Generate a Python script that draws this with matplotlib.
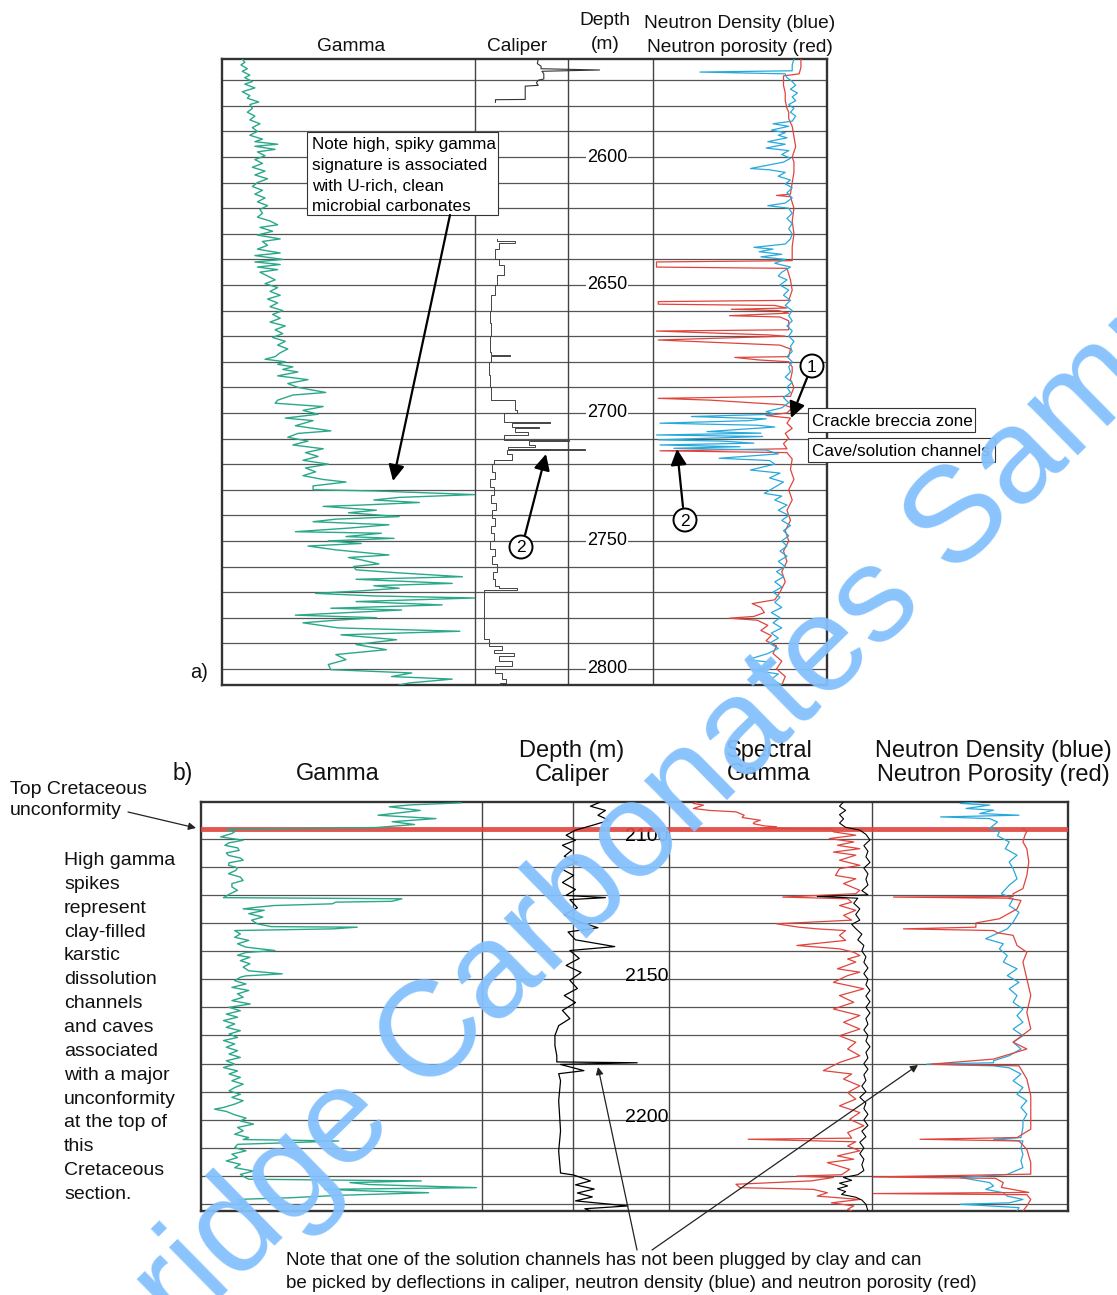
import numpy as np
import matplotlib
matplotlib.use("Agg")
import matplotlib.pyplot as plt
from matplotlib.patches import Rectangle, Circle

plt.rcParams['font.family'] = ['Liberation Sans', 'DejaVu Sans']

# ------------------------------------------------------------------ DATA
# Panel a) depth range (m) and grid
A_TOP, A_BOT = 2561.7, 2806.3
A_GRID = list(range(2570, 2801, 10))
A_LABELS = [2600, 2650, 2700, 2750, 2800]

# Gamma (panel a) - % of track width
GAMMA_A_DEPTH = [2561.7, 2563, 2564, 2565.5, 2566.5, 2568, 2569, 2570.5, 2571.5, 2573, 2574.5, 2576, 2577, 2578.5,
                 2579.5, 2581, 2582.5, 2584, 2585.5, 2587, 2588.5, 2590, 2591.5, 2593, 2594, 2595, 2595.8, 2597,
                 2598, 2599.5, 2601, 2602.5, 2604, 2605.5, 2607, 2608.5, 2610, 2611.5, 2613, 2614.5, 2616, 2617.5,
                 2619, 2620.5, 2622, 2623.5, 2625, 2626.5, 2627.5, 2629, 2630.5, 2632, 2633, 2634.5, 2636, 2637.5,
                 2638.5, 2640, 2641, 2642, 2643, 2644, 2645, 2646.5, 2648, 2649.5, 2651, 2652.5, 2654, 2655.5, 2657,
                 2658.5, 2660, 2661.5, 2663, 2664.5, 2666, 2667.5, 2669, 2670.5, 2672, 2673.5, 2675, 2676.5, 2678,
                 2679, 2680, 2681, 2682, 2683, 2684, 2685.5, 2687, 2688.5, 2690, 2692, 2693, 2695, 2696.2, 2697.5,
                 2699, 2700.5, 2702, 2703, 2705, 2707, 2708, 2709.5, 2711, 2712.5, 2714, 2715.5, 2717, 2718.5, 2720,
                 2721.5, 2723, 2724.5, 2726, 2727, 2728.5, 2730, 2730.5, 2731.9, 2733, 2734, 2735, 2736, 2736.5, 2738,
                 2739, 2740.5, 2741.5, 2742.5, 2743.7, 2745, 2746.4, 2747, 2748.3, 2749, 2750, 2751, 2752, 2753.5,
                 2755.5, 2756.5, 2757.4, 2759, 2760, 2761.3, 2762.5, 2764, 2765, 2766.6, 2767.5, 2768.5, 2769.5,
                 2770.5, 2771.5, 2772.3, 2773.7, 2775, 2776.3, 2777, 2778, 2779, 2780, 2781, 2782, 2784, 2785.3,
                 2786.7, 2788.6, 2790.5, 2792.5, 2794.4, 2796.4, 2798.3, 2800.3, 2801.6, 2803, 2804, 2805.5, 2806.3]
GAMMA_A_VAL = [8, 9, 7.5, 10, 8, 11, 9, 12, 9, 13, 8, 11, 10, 14.5,
               11, 12, 10, 13, 11, 15, 12, 14, 11, 16, 13, 22, 13, 21,
               14, 17, 13, 16, 12, 17, 13, 18, 14, 12, 16, 13, 17, 14,
               18, 15, 16, 14, 19, 22, 15, 20, 14, 23, 16, 18, 14, 23,
               13, 24, 13, 23, 14, 22, 15, 18, 21, 17, 22, 19, 23, 18, 22,
               19, 24, 20, 23, 19, 25, 21, 24, 20, 25, 22, 26, 23, 21,
               17, 25, 22, 28, 24, 30, 22, 34, 26, 30, 41, 28, 22, 21, 40,
               32, 38, 25, 36, 29, 43, 30, 26, 34, 28, 40, 33, 38, 32, 42,
               33, 37, 32, 40, 49, 36, 36, 61, 100, 70, 60, 78, 55, 40, 61,
               50, 70, 45, 36, 66, 50, 29, 63, 49, 68, 42, 55, 34, 45,
               66, 50, 55, 62, 52, 53, 70, 95, 53, 91, 60, 70, 55,
               37, 60, 100, 53, 87, 43, 71, 50, 29, 61, 45, 32, 46, 94,
               47, 69, 53, 65, 45, 49, 42, 43, 75, 67, 91, 74, 70]

# Caliper (panel a) - two logged runs, % of track width
CAL_A_TOP_DEPTH = [2561.7, 2563.5, 2564.5, 2565.5, 2566, 2566.5, 2567.5, 2569.5, 2570, 2571, 2572, 2572.3,
                   2577.5, 2577.6, 2578.6]
CAL_A_TOP_VAL = [68, 67, 71, 71, 134, 72, 74, 74, 68, 66, 68, 54, 54, 22, 22]
CAL_A_DEPTH = [2632, 2633, 2633.5, 2636, 2639.8, 2642, 2645, 2646, 2650, 2653, 2654, 2660, 2665, 2670, 2676,
               2677.3, 2677.8, 2680, 2685, 2690, 2694.5, 2695, 2699, 2700, 2703, 2703.4, 2703.8, 2705.3, 2706,
               2707.3, 2708.5, 2710.5, 2711, 2712.5, 2713.3, 2714, 2714.3, 2716, 2718.3, 2720, 2723, 2726, 2729,
               2732, 2735, 2738, 2741, 2744, 2747, 2750, 2753, 2756, 2759, 2762, 2765, 2767.5, 2768.5, 2769.3,
               2787.3, 2788.5, 2791, 2792.5, 2793.8, 2795, 2797, 2799, 2801.6, 2804, 2805.5, 2806.3]
CAL_A_VAL = [24, 43, 26, 22, 26, 31, 31, 24, 22, 22, 17, 16, 17, 16, 17,
             38, 17, 15, 16, 17, 17, 43, 45, 31, 31, 81, 40, 69, 43,
             57, 31, 101, 58, 65, 36, 118, 34, 40, 20, 18, 22, 16, 20,
             17, 23, 18, 22, 17, 20, 16, 21, 18, 24, 19, 22, 26, 45, 10,
             10, 15, 29, 20, 42, 26, 40, 22, 29, 33, 27, 28]

# Neutron density (blue) panel a
ND_A_DEPTH = [2561.7, 2564, 2566.3, 2566.8, 2567.5, 2569, 2570.5, 2572, 2573.5, 2575, 2576.5, 2578, 2579.5, 2581,
              2582.5, 2584, 2586, 2587, 2588, 2589.5, 2590.5, 2591.5, 2592.5, 2594, 2595, 2596.5, 2597.5, 2599,
              2600.5, 2602, 2604.5, 2605, 2606, 2607.5, 2609, 2610.5, 2612, 2614, 2616, 2618, 2619, 2620, 2622,
              2624, 2626, 2628, 2630, 2632, 2634, 2635.3, 2636, 2637, 2638, 2639, 2640, 2641.5, 2643, 2645,
              2646.5, 2648, 2650, 2652, 2654, 2656, 2658, 2660, 2662, 2664, 2666, 2668, 2670, 2672, 2674, 2676,
              2678, 2680, 2682, 2684, 2686, 2688, 2690, 2692, 2694, 2696, 2698, 2699.5, 2700.5, 2701.4, 2702.3,
              2703, 2704, 2704.8, 2705.5, 2707.3, 2707.9, 2708.6, 2709.2, 2710.5, 2711, 2711.8, 2712.5, 2713.2,
              2713.8, 2714.5, 2716, 2717.7, 2718.6, 2720, 2722.3, 2723.5, 2725.4, 2727, 2729, 2731.4, 2732.5,
              2734, 2736, 2738, 2740, 2742, 2744, 2746, 2748, 2750, 2752, 2754, 2756, 2758, 2760, 2762, 2764,
              2766, 2768, 2770, 2772, 2774, 2776, 2778, 2780, 2782, 2784, 2786, 2788, 2790, 2792, 2794, 2796.5,
              2797.5, 2799, 2800.5, 2802, 2804, 2806.3]
ND_A_VAL = [81, 80, 80, 27, 76, 77, 80, 82, 79, 83, 80, 82, 78, 81,
            79, 82, 80, 69, 78, 68, 76, 72, 77, 66, 76, 65, 78, 74,
            79, 75, 56, 67, 76, 72, 79, 76, 80, 77, 80, 76, 66, 78, 80,
            77, 80, 78, 80, 79, 76, 58, 69, 61, 74, 62, 76, 70, 79, 74,
            72, 77, 73, 78, 75, 79, 76, 80, 78, 80, 77, 80, 78, 81, 79, 80,
            77, 80, 78, 79, 76, 80, 77, 79, 75, 78, 74, 65, 70, 22, 65,
            55, 4, 60, 70, 31, 62, 2, 63, 3, 40, 58, 4, 50,
            12, 65, 72, 38, 67, 70, 56, 73, 67, 75, 70, 64, 74,
            70, 77, 72, 78, 74, 79, 75, 78, 74, 77, 73, 77, 72, 76, 71, 75,
            70, 74, 69, 73, 70, 74, 68, 73, 69, 74, 68, 72, 67, 72, 66, 54,
            70, 66, 58, 72, 68, 74]

# Neutron porosity (red) panel a
NP_A_DEPTH = [2561.7, 2565, 2567.5, 2568.3, 2572, 2575, 2578, 2581, 2582.5, 2585, 2588, 2592, 2596, 2600, 2602,
              2606, 2610, 2614.5, 2615, 2615.5, 2620, 2625, 2630, 2635, 2640.5, 2641, 2643, 2643.5, 2648, 2652,
              2656, 2656.5, 2657.5, 2658, 2659, 2659.5, 2660, 2661, 2662, 2662.5, 2664, 2667.5, 2668, 2669.5,
              2670, 2671.5, 2673.5, 2675, 2678, 2678.3, 2679.3, 2680, 2682, 2684, 2687, 2690, 2693.5, 2694.3,
              2695, 2696.8, 2698, 2700, 2701, 2702, 2704, 2706, 2708, 2710, 2712, 2714, 2714.8, 2715.5, 2718,
              2722, 2726, 2730, 2734, 2738, 2742, 2746, 2750, 2754, 2758, 2762, 2766, 2770, 2773, 2774.5, 2776,
              2778, 2779.5, 2780.2, 2781, 2783, 2785, 2787, 2789, 2791, 2794, 2797, 2800, 2803, 2806.3]
NP_A_VAL = [85, 85, 84, 75, 75, 76, 76, 77, 78, 78, 80, 81, 82, 80, 81,
            81, 80, 79, 71, 79, 81, 80, 81, 80, 80, 2, 2, 77, 79, 80,
            78, 3, 3, 70, 77, 45, 72, 78, 44, 73, 78, 78, 2, 66,
            76, 3, 73, 79, 78, 47, 61, 78, 80, 80, 79, 81, 79, 3,
            33, 75, 80, 77, 65, 79, 77, 80, 76, 78, 75, 77, 4, 77, 80,
            79, 81, 78, 80, 77, 79, 76, 78, 75, 77, 74, 76, 73, 70, 57, 62,
            64, 58, 44, 60, 66, 62, 68, 65, 71, 69, 74, 71, 76, 74]

# Panel b) depth range (m) and grid
B_TOP, B_BOT = 2087.0, 2232.4
B_GRID = list(range(2100, 2231, 10))
B_LABELS = [2100, 2150, 2200]
UNCONFORMITY = 2096.5

# Gamma (panel b): above and below the unconformity
GAMMA_B_TOP_DEPTH = [2087.3, 2088, 2088.7, 2090, 2091.7, 2092.9, 2094, 2095, 2096.1, 2096.6]
GAMMA_B_TOP_VAL = [92.5, 75, 67, 78, 63, 83.6, 68, 76, 62, 10]
GAMMA_B_DEPTH = [2096.8, 2097.5, 2098.2, 2099.4, 2100.6, 2101.5, 2102.4, 2103.3, 2104.2, 2105.1, 2106, 2106.9,
                 2107.7, 2108.6, 2109.5, 2110.4, 2111.3, 2112.5, 2113.7, 2114.9, 2116, 2117.2, 2118.4, 2119.6,
                 2121, 2121.4, 2122.3, 2122.6, 2123.2, 2123.8, 2124.4, 2125, 2125.5, 2126.7, 2127.9, 2129, 2130.3,
                 2131.3, 2131.5, 2132.1, 2132.7, 2133.9, 2135.1, 2136.2, 2137.4, 2138.6, 2139.8, 2140.5, 2141.5,
                 2142.2, 2143.4, 2144.5, 2145.7, 2147, 2148.1, 2148.8, 2149.3,
                 2150.5, 2151.7, 2152.9, 2154, 2155.2, 2156.4, 2157.6, 2158.8, 2160, 2161.2, 2162.4, 2163.5,
                 2164.7, 2165.9, 2167.1, 2168.3, 2169.5, 2170.7, 2171.8, 2173, 2174.2, 2175.4, 2176.6, 2177.8,
                 2179, 2180.2, 2181.4, 2182.6, 2183.7, 2184.9, 2186.1, 2187.3, 2188.5, 2189.7, 2190.9, 2192,
                 2193.2, 2194.4, 2195.6, 2196.2, 2197, 2198.2, 2199.4, 2200.4, 2201.5, 2202.7, 2203.9, 2205.1,
                 2206.3, 2207, 2207.5, 2208.2, 2208.7, 2209.9, 2211, 2212.2, 2213.4, 2214.6, 2215.8, 2217, 2218.2,
                 2219.4, 2220.6, 2221.1, 2221.7, 2222.3, 2223, 2224.1, 2224.7, 2225.3, 2225.9, 2226.8, 2227.7,
                 2228.3, 2229, 2229.5, 2230.5, 2231.5, 2232.4]
GAMMA_B_VAL = [9, 12, 11, 7, 15, 10, 8.5, 13, 13.6, 9, 9.8, 14,
               15, 10, 9.8, 13, 12.4, 9.8, 14, 15, 11, 11, 13, 10.4,
               8, 71.5, 68, 48, 46.7, 26, 20, 15, 22.5, 17, 22, 18, 20,
               25, 55.6, 47, 12, 14, 12, 17, 13, 16, 26.3, 16, 13,
               17.4, 14, 17.4, 15, 17, 28.9, 16, 14,
               12, 16, 11, 17, 13, 15, 11, 17.5, 10, 14, 9, 13,
               8, 12, 9, 14, 10, 13, 8, 12, 9, 13, 10, 14,
               9, 12, 8, 13, 10, 14, 11, 15, 12, 10, 14, 11,
               15, 12, 8, 4.8, 9, 12, 16, 14, 18.7, 13, 15, 12,
               17, 15, 49, 28.9, 13, 12, 16, 11, 13, 9, 14, 12, 18.7,
               14, 16, 17, 78.4, 53, 60, 98, 44, 60, 81, 50, 31.5,
               12.4, 16, 13, 17, 14, 16]

# Caliper (panel b)
CAL_B_DEPTH = [2087.1, 2088.5, 2090, 2091.7, 2093.5, 2095.3, 2097, 2098.8, 2100.6, 2102.4, 2104.2, 2106.3, 2108.5,
               2110.6, 2113.1, 2115.6, 2118.1, 2120.2, 2121, 2121.7, 2124.6, 2127.1, 2129.6, 2131.7, 2133.2, 2136,
               2138.4, 2139.8, 2142.6, 2145.1, 2147.6, 2150.4, 2153.3, 2155.8, 2158.3, 2161.1, 2164, 2166.5, 2170,
               2173.6, 2177.2, 2179.4, 2179.7, 2180.3, 2182.5, 2183.6, 2186.1, 2193.2, 2203.9, 2211.1, 2218.9,
               2219.6, 2221.7, 2223.1, 2224.6, 2226, 2227.4, 2228.8, 2230.6, 2231.6, 2232.4]
CAL_B_VAL = [63, 58, 66, 62, 68, 59, 50, 45, 50, 43, 48, 44,
             51, 42, 49, 43, 50, 45, 66, 47, 51, 44, 52, 62, 46, 50,
             71, 47, 52, 45, 53, 47, 51, 44, 50, 43, 47, 41, 39,
             39, 40, 40, 83, 42, 54.5, 41, 42, 41, 42, 41, 42,
             49, 58, 50, 60, 51, 59, 50, 78, 55, 58]

# Spectral gamma (panel b): red curve and black curve
SG_RED_DEPTH = [2086.9, 2087.5, 2088.1, 2089.3, 2090, 2090.5, 2091.7, 2092.5, 2093.5, 2094.2, 2094.7, 2095.5,
                2095.8, 2096.3, 2096.6, 2097.6, 2098.8, 2100, 2101.2, 2102.4, 2103.6, 2104.8, 2105.9, 2107.7,
                2109.5, 2110.7, 2113.1, 2114.3, 2116, 2118.4, 2119.6, 2120.8, 2121.4, 2122.6, 2123.8, 2125.5,
                2127.3, 2129, 2130.3, 2131.5, 2132.1, 2132.7, 2134.4, 2136.2, 2138, 2139.2, 2140.4, 2141.6,
                2142.8, 2143.9, 2146.3, 2147.5, 2148.7, 2151.1, 2153.4, 2155.8, 2158.2, 2160.6, 2162.9, 2165.3,
                2167.7, 2170.1, 2172.4, 2174.8, 2177.2, 2179.6, 2182.5, 2183.7, 2185.5, 2187.9, 2190.3, 2192.6,
                2195, 2197.4, 2199.8, 2202.1, 2204.5, 2206.5, 2206.9, 2207.8, 2209.3, 2211, 2212.8, 2214, 2215.2,
                2217.6, 2219.5, 2220, 2220.5, 2221.7, 2222.9, 2224.1, 2224.7, 2225.9, 2227.1, 2228.3, 2229.5,
                2230.6, 2231.8, 2232.4]
SG_RED_VAL = [14, 12, 17, 12, 20, 33, 37, 36, 45, 42, 41.5, 47,
              53, 45, 80, 81, 92, 79, 91, 83, 94, 81, 92, 84,
              94, 84, 82, 92, 86, 94, 92, 56, 88, 90, 84, 92,
              86, 90, 53, 64, 73, 87, 84, 87, 63, 84, 91, 94,
              88, 92, 83, 94, 88, 81, 96, 84, 91, 81, 94, 86,
              94, 84, 92, 88, 94, 84, 76, 90, 86, 94, 88, 92,
              84, 94, 89, 96, 88, 90, 39, 92, 88, 94, 83, 91, 78,
              89, 85, 63, 81, 70, 33, 35, 71, 78, 73, 94, 80,
              91, 88, 90]
SG_BLK_DEPTH = [2086.9, 2088.5, 2090, 2091.5, 2093, 2094.5, 2096, 2097, 2098.5, 2100.5, 2102.5, 2104.5, 2106.5,
                2108.5, 2110.5, 2112.5, 2114.5, 2116.5, 2118.5, 2120, 2120.6, 2121.2, 2123, 2125, 2127, 2129,
                2130.5, 2132, 2134, 2136, 2138, 2140, 2142, 2144, 2146, 2148, 2150, 2152, 2154, 2156, 2158, 2160,
                2162, 2164, 2166, 2168, 2170, 2172, 2174, 2176, 2178, 2180, 2182, 2184, 2186, 2188, 2190, 2192,
                2194, 2196, 2198, 2200, 2202, 2204, 2206, 2208, 2210, 2212, 2214, 2216, 2218, 2219.5, 2220.5,
                2221.5, 2222.5, 2223.5, 2224.5, 2225.5, 2226.5, 2227.5, 2228.5, 2230, 2232.4]
SG_BLK_VAL = [86, 84, 87, 84, 86, 84, 87, 94, 97, 99, 96, 98, 97,
              99, 96, 98, 97, 98, 95, 98, 73, 93, 91, 94, 92, 94,
              90, 92, 95, 93, 96, 95, 97, 96, 98, 96, 98, 97, 99, 97, 99, 97,
              99, 97, 98, 96, 98, 97, 99, 97, 98, 96, 98, 96, 97, 95, 97, 94,
              97, 96, 98, 96, 98, 95, 97, 94, 96, 94, 96, 95, 96, 93, 86,
              90, 84, 88, 83, 87, 85, 92, 95, 97, 98]

# Neutron density (blue) and porosity (red), panel b
ND_B_DEPTH = [2086.9, 2087.5, 2088.1, 2089.3, 2089.9, 2091.1, 2091.7, 2092.3, 2092.9, 2094.1, 2095.3, 2096.4,
              2097.6, 2099, 2101.2, 2103.6, 2105.9, 2108.3, 2110.7, 2114.3, 2116.6, 2119.6, 2121.4, 2123.8,
              2126.2, 2129.7, 2132.1, 2135.6, 2137.4, 2139.2, 2141.6, 2143.9, 2146.3, 2148.7, 2151.1, 2153.4,
              2155.8, 2158.2, 2160.6, 2162.9, 2165.3, 2167.7, 2170.1, 2172.4, 2174.8, 2177.2, 2179, 2179.7,
              2180.2, 2180.8, 2181.5, 2183.7, 2186.1, 2188.5, 2190.9, 2193.2, 2195.6, 2198, 2200.4, 2202.7,
              2206.3, 2206.9, 2207.5, 2209.9, 2212.3, 2214.6, 2217, 2219.4, 2220.5, 2222.3, 2223.5, 2224.7,
              2225.9, 2227.1, 2228.3, 2229.5, 2230, 2231.2, 2232.4]
ND_B_VAL = [55, 45, 60, 48, 62, 55, 75, 35, 60, 64, 62, 60,
            65, 64, 70, 68, 74, 70, 72, 74, 70, 66, 72, 70,
            75, 72, 69, 58, 67, 65, 69, 67, 74, 69, 75, 70,
            74, 72, 77, 74, 77, 72, 77, 72, 76, 70, 62, 62,
            28, 62, 70, 76, 72, 77, 74, 79, 76, 79, 77, 77,
            76, 62, 77, 76, 77, 76, 77, 69, 45, 60, 62, 58,
            67, 69, 77, 70, 45, 75, 74]
NP_B_DEPTH = [2096.4, 2097.5, 2098.8, 2101.2, 2103.6, 2108.3, 2113.1, 2117.8, 2119.6, 2120.6, 2120.8, 2121.2,
              2122, 2125, 2128.5, 2130, 2131.5, 2132.1, 2132.7, 2133.5, 2134.4, 2138, 2140.4, 2143.9, 2149.9,
              2155.8, 2161.8, 2167.7, 2172.4, 2174.8, 2178.4, 2180.2, 2180.8, 2185.5, 2191.4, 2203.3, 2206.3,
              2206.9, 2207.5, 2210.5, 2215.2, 2219.3, 2220.3, 2220.8, 2222.3, 2224, 2225.8, 2226.2, 2226.6,
              2228.3, 2230.6, 2232.4]
NP_B_VAL = [77, 79, 78, 77, 79, 80, 79, 77, 72, 72, 11, 69,
            76, 74, 65, 53, 53, 16, 62, 64, 72, 74, 79, 77, 79,
            81, 79, 81, 72, 79, 62, 30, 75, 79, 81, 81, 74,
            24.5, 75, 79, 81, 81, 0.7, 63, 67, 66, 80, 0.7, 79,
            81, 79, 77]

# ------------------------------------------------------------------ STYLE
W, H = 1117, 1295
GREEN = '#2aa889'
BLUE = '#27a9dc'
RED = '#e0443c'
GRID = '#555555'
WATER = '#84c1fd'

fig = plt.figure(figsize=(W / 100, H / 100), dpi=100)
fig.patch.set_facecolor('white')


def rect(x0, y0, x1, y1):
    return [x0 / W, 1 - y1 / H, (x1 - x0) / W, (y1 - y0) / H]


def frame(x0, x1, y0, y1, dtop, dbot, dividers, grid):
    ax = fig.add_axes(rect(x0, y0, x1, y1))
    ax.set_xlim(x0, x1)
    ax.set_ylim(dbot, dtop)
    ax.set_xticks([])
    ax.set_yticks([])
    for s in ax.spines.values():
        s.set_linewidth(1.7)
        s.set_color('#333333')
    for d in grid:
        ax.axhline(d, color=GRID, lw=0.9, zorder=1)
    for x in dividers:
        ax.axvline(x, color='#444444', lw=1.0, zorder=1)
    return ax


def track(x0, x1, y0, y1, dtop, dbot):
    ax = fig.add_axes(rect(x0, y0, x1, y1))
    ax.set_xlim(0, 100)
    ax.set_ylim(dbot, dtop)
    ax.axis('off')
    ax.patch.set_alpha(0)
    return ax


# ------------------------------------------------------------------ PANEL A
AY0, AY1 = 59, 685
fa = frame(222, 827, AY0, AY1, A_TOP, A_BOT, [475, 568, 653], A_GRID)
for d in A_LABELS:
    fa.text(607, d, str(d), ha='center', va='center', fontsize=13,
            bbox=dict(boxstyle='square,pad=0.05', fc='white', ec='none'), zorder=3)

ga = track(222, 475, AY0, AY1, A_TOP, A_BOT)
ga.plot(GAMMA_A_VAL, GAMMA_A_DEPTH, color=GREEN, lw=1.0)

ca = track(475, 568, AY0, AY1, A_TOP, A_BOT)
ca.plot(CAL_A_TOP_VAL, CAL_A_TOP_DEPTH, color='#333333', lw=0.8, clip_on=False)
ca.plot(CAL_A_VAL, CAL_A_DEPTH, color='#444444', lw=0.7, clip_on=False, drawstyle='steps-pre')

na = track(653, 827, AY0, AY1, A_TOP, A_BOT)
na.plot(NP_A_VAL, NP_A_DEPTH, color=RED, lw=0.9)
na.plot(ND_A_VAL, ND_A_DEPTH, color=BLUE, lw=0.9)

# ------------------------------------------------------------------ PANEL B
BY0, BY1 = 802, 1211
fb = frame(201, 1068, BY0, BY1, B_TOP, B_BOT, [482, 573, 669, 872], B_GRID)
for d in B_LABELS:
    fb.text(647, d - 0.9, str(d), ha='center', va='center', fontsize=14, zorder=3)
fb.axhline(UNCONFORMITY, color=RED, lw=3.5, alpha=0.9, zorder=6)

gb = track(201, 482, BY0, BY1, B_TOP, B_BOT)
gb.plot(GAMMA_B_TOP_VAL, GAMMA_B_TOP_DEPTH, color=GREEN, lw=1.0)
gb.plot(GAMMA_B_VAL, GAMMA_B_DEPTH, color=GREEN, lw=1.0)

cb = track(482, 669, BY0, BY1, B_TOP, B_BOT)
cb.plot(CAL_B_VAL, CAL_B_DEPTH, color='black', lw=0.9)

sb = track(669, 872, BY0, BY1, B_TOP, B_BOT)
sb.plot(SG_RED_VAL, SG_RED_DEPTH, color=RED, lw=0.9)
sb.plot(SG_BLK_VAL, SG_BLK_DEPTH, color='black', lw=0.8)

nb = track(872, 1068, BY0, BY1, B_TOP, B_BOT)
nb.plot(ND_B_VAL, ND_B_DEPTH, color=BLUE, lw=0.9)
nb.plot(NP_B_VAL, NP_B_DEPTH, color=RED, lw=0.9)

# ------------------------------------------------------------------ OVERLAY (texts, arrows)
ov = fig.add_axes([0, 0, 1, 1])
ov.set_xlim(0, W)
ov.set_ylim(H, 0)
ov.axis('off')
ov.patch.set_alpha(0)


def lines(x, y_first, dy, strs, size, ha='left'):
    px = size * 100 / 72
    for i, s in enumerate(strs):
        ov.text(x, y_first + i * dy + 0.36 * px, s, ha=ha, va='baseline', fontsize=size, color='#111111')


# panel a headers
lines(351, 44, 0, ['Gamma'], 13.8, 'center')
lines(517, 44, 0, ['Caliper'], 13.8, 'center')
lines(605, 18, 24, ['Depth', '(m)'], 13.8, 'center')
lines(740, 21, 24, ['Neutron Density (blue)', 'Neutron porosity (red)'], 13.8, 'center')
lines(199, 671, 0, ['a)'], 14.5, 'center')

# panel a annotations
ov.add_patch(Rectangle((307, 132), 191, 83, fc='white', ec='#333333', lw=0.8, zorder=5))
for i, s in enumerate(['Note high, spiky gamma', 'signature is associated',
                       'with U-rich, clean', 'microbial carbonates']):
    ov.text(312, 143 + i * 20.7 + 0.36 * 17.1, s, ha='left', va='baseline', fontsize=12.3, zorder=6)

ov.add_patch(Rectangle((808, 408), 167, 24, fc='white', ec='#333333', lw=0.8, zorder=5))
ov.text(812, 420 + 6.2, 'Crackle breccia zone', ha='left', va='baseline', fontsize=12.3, zorder=6)
ov.add_patch(Rectangle((808, 438), 187, 24, fc='white', ec='#333333', lw=0.8, zorder=5))
ov.text(812, 450 + 6.2, 'Cave/solution channels', ha='left', va='baseline', fontsize=12.3, zorder=6)

big = dict(arrowstyle='-|>', color='black', lw=1.6, mutation_scale=24, shrinkA=0, shrinkB=0)
ov.annotate('', xy=(393, 481), xytext=(450, 215), arrowprops=big, zorder=7)
ov.annotate('', xy=(791, 418), xytext=(807, 378), arrowprops=big, zorder=7)
ov.annotate('', xy=(546, 454), xytext=(525, 535), arrowprops=big, zorder=7)
ov.annotate('', xy=(677, 449), xytext=(683, 507), arrowprops=big, zorder=7)
for (cx, cy, lab) in [(812, 366, '1'), (521, 547, '2'), (685, 520, '2')]:
    ov.add_patch(Circle((cx, cy), 11.5, fc='white', ec='black', lw=1.4, zorder=8))
    ov.text(cx, cy + 1, lab, ha='center', va='center', fontsize=12.5, zorder=9)

# panel b headers
lines(183, 772, 0, ['b)'], 16.5, 'center')
lines(338, 772, 0, ['Gamma'], 17, 'center')
lines(572, 748, 24, ['Depth (m)', 'Caliper'], 17, 'center')
lines(769, 748, 24, ['Spectral', 'Gamma'], 17, 'center')
lines(993, 748, 24, ['Neutron Density (blue)', 'Neutron Porosity (red)'], 17, 'center')

lines(10, 787, 21, ['Top Cretaceous', 'unconformity'], 14)
lines(64, 858, 23.86, ['High gamma', 'spikes', 'represent', 'clay-filled', 'karstic', 'dissolution',
                       'channels', 'and caves', 'associated', 'with a major', 'unconformity',
                       'at the top of', 'this', 'Cretaceous', 'section.'], 14)
lines(286, 1258, 23, ['Note that one of the solution channels has not been plugged by clay and can',
                      'be picked by deflections in caliper, neutron density (blue) and neutron porosity (red)'],
      13.5)

thin = dict(arrowstyle='-|>', color='#222222', lw=0.9, mutation_scale=11, shrinkA=0, shrinkB=0)
ov.annotate('', xy=(196, 828), xytext=(128, 812), arrowprops=thin, zorder=7)
ov.annotate('', xy=(598, 1067), xytext=(637, 1250), arrowprops=thin, zorder=7)
ov.annotate('', xy=(918, 1065), xytext=(652, 1250), arrowprops=thin, zorder=7)

# watermark
ov.text(578, 898, 'Cambridge Carbonates Sample', rotation=44.5, rotation_mode='anchor',
        ha='center', va='center', fontsize=98, color=WATER, alpha=0.95, zorder=20)

fig.savefig('out.png', dpi=100, facecolor='white')
